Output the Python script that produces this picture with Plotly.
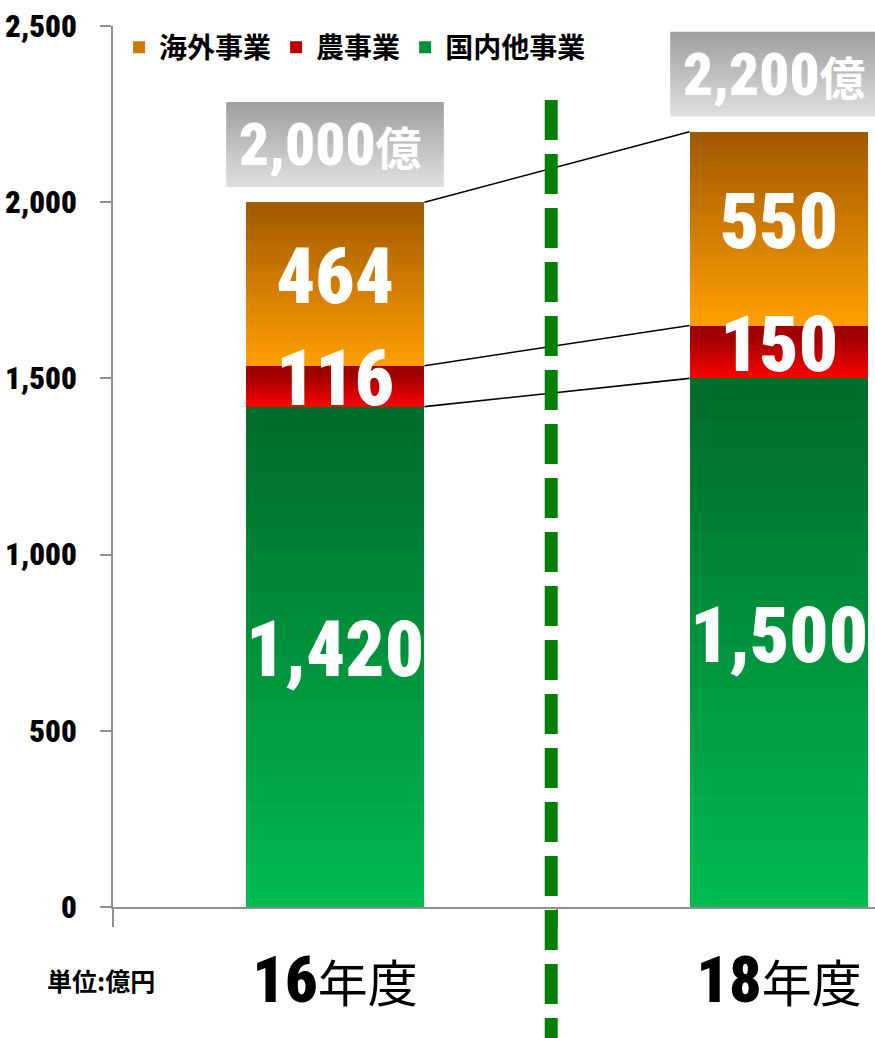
import plotly.graph_objects as go

# ---------------- data ----------------
categories = ["16年度", "18年度"]
cat_years = ["16", "18"]
x_pos = [0, 1]
domestic = [1420, 1500]      # 国内他事業
agri = [116, 150]            # 農事業
overseas = [464, 550]        # 海外事業
series_names = ["国内他事業", "農事業", "海外事業"]
total_labels = ["2,000億", "2,200億"]
y_tickvals = [0, 500, 1000, 1500, 2000, 2500]
unit_label = "単位:億円"

# ---------------- styles ----------------
NUM_FONT = "'Noto Sans ExtraCondensed', 'Noto Sans Condensed', 'Roboto Condensed', Roboto, sans-serif"
CJK_FONT = "'Noto Sans CJK JP', sans-serif"
AXIS_GRAY = "#8f8f8f"
BAR_W = 0.403
N_SLICES = 24

grad = {
    "国内他事業": ((0, 188, 80), (0, 106, 42)),
    "農事業": ((255, 0, 0), (160, 0, 0)),
    "海外事業": ((255, 160, 0), (160, 88, 0)),
}
legend_rank = {"海外事業": 1, "農事業": 2, "国内他事業": 3}


def mix(c0, c1, t):
    return "rgb(%d,%d,%d)" % tuple(round(a + (b - a) * t) for a, b in zip(c0, c1))


fig = go.Figure()

series_vals = [domestic, agri, overseas]
for name, vals in zip(series_names, series_vals):
    c_bot, c_top = grad[name]
    for k in range(N_SLICES):
        t = (k + 0.5) / N_SLICES
        if name == "農事業":
            t = min(1.0, t / 0.75)
        col = mix(c_bot, c_top, t)
        show = k == N_SLICES // 2
        fig.add_trace(go.Bar(
            x=x_pos, y=[v / N_SLICES for v in vals],
            width=BAR_W, name=name, legendgroup=name,
            showlegend=show, legendrank=legend_rank[name],
            marker=dict(color=col, line=dict(width=0)),
            hoverinfo="skip",
        ))

cum1 = domestic
cum2 = [a + b for a, b in zip(domestic, agri)]
cum3 = [a + b + c for a, b, c in zip(domestic, agri, overseas)]

for level in (cum1, cum2, cum3):
    fig.add_trace(go.Scatter(
        x=[x_pos[0] + BAR_W / 2, x_pos[1] - BAR_W / 2], y=level,
        mode="lines", line=dict(color="black", width=1.6),
        showlegend=False, hoverinfo="skip",
    ))

lab_x, lab_y, lab_t = [], [], []
bases = [[0, 0], cum1, cum2]
for vals, base in zip(series_vals, bases):
    for i in range(2):
        lab_x.append(x_pos[i])
        lab_y.append(base[i] + vals[i] / 2)
        lab_t.append(f"{vals[i]:,}")
fig.add_trace(go.Scatter(
    x=lab_x, y=lab_y, text=lab_t, mode="text",
    textfont=dict(family=NUM_FONT, size=77, color="white", weight=900),
    textposition="middle center", showlegend=False, hoverinfo="skip",
))

shapes = []
BOX_LO, BOX_HI, BOX_HW = 43, 284, 0.245
NB = 20
for i in range(2):
    for k in range(NB):
        y0 = cum3[i] + BOX_LO + (BOX_HI - BOX_LO) * k / NB
        y1 = cum3[i] + BOX_LO + (BOX_HI - BOX_LO) * (k + 1) / NB
        col = mix((224, 224, 224), (158, 158, 158), (k + 0.5) / NB)
        shapes.append(dict(type="rect", xref="x", yref="y",
                           x0=x_pos[i] - BOX_HW, x1=x_pos[i] + BOX_HW,
                           y0=y0, y1=min(y1 + 4, cum3[i] + BOX_HI), fillcolor=col,
                           line=dict(width=0), layer="above"))

annotations = []
for i in range(2):
    num, unit = total_labels[i][:-1], total_labels[i][-1]
    annotations.append(dict(
        x=x_pos[i], y=cum3[i] + (BOX_LO + BOX_HI) / 2, xref="x", yref="y",
        text=(f"<span style=\"font-family:{NUM_FONT};font-weight:900;font-size:59px\">{num}</span>"
              f"<span style=\"font-family:{CJK_FONT};font-weight:bold;font-size:46px\">{unit}</span>"),
        showarrow=False, font=dict(color="white", size=58, family=NUM_FONT),
        xanchor="center", yanchor="middle", xshift=-5,
    ))

annotations.append(dict(
    x=-0.016, y=-0.083, xref="paper", yref="paper", text=unit_label,
    showarrow=False, xanchor="center", yanchor="middle",
    font=dict(family=CJK_FONT, size=25, color="black", weight="bold"),
))

shapes.append(dict(type="line", xref="x", yref="paper",
                   x0=0.487, x1=0.487, y0=0.916, y1=-0.16,
                   line=dict(color="#008000", width=13, dash="40px,14px"),
                   layer="above"))

tick_text = [
    f"<span style=\"font-family:{NUM_FONT};font-weight:900;font-size:64px\">{y}</span>年度"
    for y in cat_years
]

fig.update_layout(
    width=875, height=1038,
    margin=dict(l=113, r=0, t=26, b=131, autoexpand=False),
    paper_bgcolor="white", plot_bgcolor="white",
    barmode="stack", bargap=0,
    showlegend=True,
    legend=dict(orientation="h", x=0.008, y=1.004, xanchor="left", yanchor="top",
                font=dict(family=CJK_FONT, size=28, color="black", weight="bold"),
                bgcolor="rgba(0,0,0,0)", itemwidth=30),
    shapes=shapes, annotations=annotations,
    xaxis=dict(
        range=[-0.5, -0.5 + 762 / 444], showgrid=False, zeroline=False,
        showline=True, linecolor=AXIS_GRAY, linewidth=2, automargin=False,
        tickmode="array", tickvals=x_pos, ticktext=tick_text, ticks="",
        tickfont=dict(family=CJK_FONT, size=50, color="black"),
        ticklabelstandoff=33,
        minor=dict(tickmode="array", tickvals=[-0.5, 0.5], ticks="outside",
                   ticklen=18, tickwidth=2, tickcolor=AXIS_GRAY, showgrid=False),
    ),
    yaxis=dict(
        range=[0, 2500], showgrid=False, zeroline=False,
        showline=True, linecolor=AXIS_GRAY, linewidth=2, automargin=False,
        tickmode="array", tickvals=y_tickvals,
        ticktext=[f"{v:,}" for v in y_tickvals],
        ticks="outside", ticklen=11, tickwidth=2, tickcolor=AXIS_GRAY,
        tickfont=dict(family=NUM_FONT, size=31, color="black", weight=900),
        ticklabelstandoff=17,
    ),
)

fig.write_html("out.html", config={"displayModeBar": False},
               post_script="document.body.style.margin='0';")
